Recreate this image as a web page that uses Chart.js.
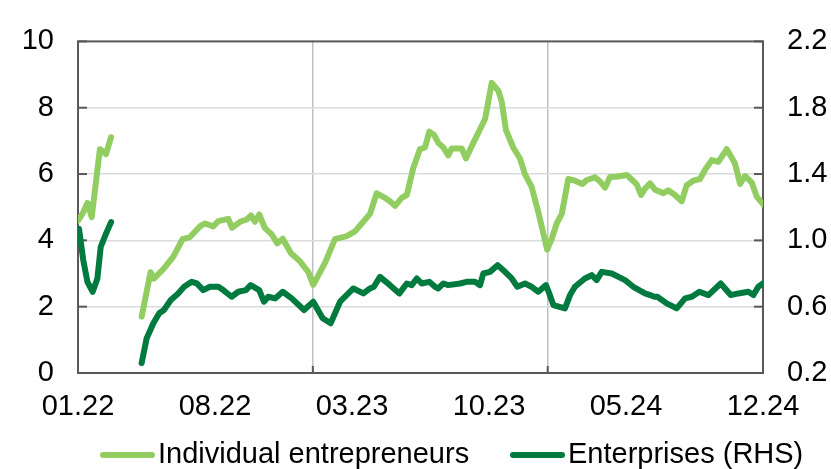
<!DOCTYPE html>
<html>
<head>
<meta charset="utf-8">
<script src="https://cdn.jsdelivr.net/npm/chart.js@4/dist/chart.umd.min.js"></script>
<style>
  html, body { margin: 0; padding: 0; background: #ffffff; }
  #wrap { width: 831px; height: 469px; position: relative; }
</style>
</head>
<body>
<div id="wrap"><canvas id="c"></canvas></div>
<script>
// ---- Data (x = months since Jan 2022) ----
const xTickMonths = [0, 7, 14, 21, 28, 35];
const xTickLabels = ['01.22', '08.22', '03.23', '10.23', '05.24', '12.24'];
const yearMarks = [12, 24];

const seriesNames = ['Individual entrepreneurs', 'Enterprises (RHS)'];

const ieMonths = [0.00, 0.23, 0.48, 0.70, 1.12, 1.43, 1.69, 2.40,
  3.25, 3.71, 3.88, 4.36, 4.87, 5.35, 5.72, 6.23, 6.49, 6.91, 7.17, 7.68, 7.87, 8.28, 8.62, 8.84, 9.04, 9.26, 9.55, 9.90,
  10.18, 10.46, 10.88, 11.34, 11.77, 12.02, 12.62, 13.13, 13.73, 14.15, 14.50, 14.92, 15.26, 15.69, 15.94, 16.20, 16.54,
  16.80, 17.13, 17.47, 17.73, 17.95, 18.19, 18.41, 18.67, 18.92, 19.09, 19.61, 19.82, 20.20, 20.80, 21.14, 21.48, 21.65,
  21.87, 22.24, 22.58, 22.84, 23.18, 23.52, 23.70, 23.97, 24.20, 24.46, 24.72, 25.05, 25.39, 25.77, 25.99, 26.42, 26.67,
  26.93, 27.18, 27.52, 28.04, 28.32, 28.55, 28.77, 28.97, 29.23, 29.48, 29.91, 30.16, 30.50, 30.85, 31.10, 31.44, 31.78,
  32.04, 32.38, 32.72, 33.15, 33.57, 33.83, 34.08, 34.42, 34.68, 35.00];
const ieValues = [4.60, 4.80, 5.13, 4.70, 6.75, 6.60, 7.11, null,
  1.70, 3.04, 2.85, 3.13, 3.51, 4.04, 4.10, 4.42, 4.51, 4.42, 4.58, 4.65, 4.38, 4.56, 4.63, 4.75, 4.56, 4.78, 4.37, 4.18,
  3.91, 4.05, 3.61, 3.37, 3.04, 2.66, 3.32, 4.04, 4.13, 4.27, 4.51, 4.80, 5.42, 5.28, 5.18, 5.04, 5.28,
  5.37, 6.18, 6.75, 6.80, 7.28, 7.18, 6.94, 6.80, 6.56, 6.77, 6.77, 6.47, 6.94, 7.66, 8.75, 8.51, 8.18,
  7.32, 6.80, 6.47, 5.99, 5.61, 4.85, 4.40, 3.72, 4.04, 4.51, 4.80, 5.85, 5.80, 5.70, 5.82, 5.90, 5.78,
  5.59, 5.91, 5.92, 5.97, 5.82, 5.69, 5.37, 5.56, 5.72, 5.53, 5.42, 5.51, 5.37, 5.18, 5.66, 5.80, 5.85,
  6.13, 6.42, 6.37, 6.75, 6.32, 5.70, 5.94, 5.75, 5.32, 5.09];

const entMonths = [0.05, 0.27, 0.48, 0.75, 0.99, 1.16, 1.43, 1.69, 2.40,
  3.25, 3.51, 3.85, 4.15, 4.39, 4.74, 5.12, 5.42, 5.81, 6.07, 6.40, 6.74, 7.17, 7.42, 7.85, 8.19, 8.58, 8.82, 9.26,
  9.50, 9.72, 10.07, 10.46, 10.92, 11.55, 12.02, 12.50, 12.91, 13.39, 14.07, 14.58, 14.92, 15.12, 15.43, 15.94, 16.42,
  16.80, 17.05, 17.31, 17.56, 17.95, 18.24, 18.41, 18.67, 18.92, 19.52, 19.86, 20.28, 20.54, 20.71, 21.05, 21.44,
  21.82, 22.16, 22.45, 22.84, 23.18, 23.52, 23.91, 24.08, 24.29, 24.88, 25.14, 25.39, 25.90, 26.25, 26.50, 26.76,
  27.27, 27.95, 28.37, 28.97, 29.23, 29.45, 29.60, 30.08, 30.59, 31.02, 31.36, 31.75, 32.21, 32.84, 33.35, 33.74,
  34.25, 34.51, 34.76, 35.00];
const entValues = [1.07, 0.88, 0.75, 0.69, 0.77, 0.96, 1.04, 1.11, null,
  0.26, 0.41, 0.50, 0.56, 0.58, 0.64, 0.68, 0.72, 0.75, 0.74, 0.70, 0.72, 0.72, 0.70, 0.66, 0.69, 0.70, 0.73, 0.70,
  0.63, 0.66, 0.65, 0.69, 0.65, 0.58, 0.63, 0.53, 0.50, 0.63, 0.71, 0.68, 0.71, 0.72, 0.78, 0.73, 0.68,
  0.74, 0.73, 0.77, 0.74, 0.75, 0.72, 0.71, 0.74, 0.73, 0.74, 0.75, 0.75, 0.73, 0.80, 0.81, 0.85,
  0.81, 0.77, 0.72, 0.74, 0.72, 0.69, 0.73, 0.68, 0.61, 0.59, 0.67, 0.72, 0.77, 0.79, 0.76, 0.81,
  0.80, 0.76, 0.72, 0.68, 0.67, 0.66, 0.66, 0.62, 0.59, 0.65, 0.66, 0.69, 0.67, 0.74, 0.67, 0.68,
  0.69, 0.67, 0.72, 0.74];

const leftTicks = [0, 2, 4, 6, 8, 10];
const rightTicks = [0.2, 0.6, 1.0, 1.4, 1.8, 2.2];

// ---- Styling ----
const LIGHT = '#92cd62';
const DARK = '#007a3e';
const FRAME = '#595959';
const FONT = '"Liberation Sans", Arial, sans-serif';
const FSIZE = 29;

function pts(xs, ys) { return xs.map((x, i) => ({ x: x, y: ys[i] })); }

const framePlugin = {
  id: 'frame',
  beforeDatasetsDraw(chart) {
    const { ctx, chartArea: a, scales } = chart;
    ctx.save();
    ctx.strokeStyle = FRAME;
    ctx.lineWidth = 2;
    ctx.strokeRect(a.left, a.top, a.right - a.left, a.bottom - a.top);
    leftTicks.forEach(v => {
      const y = scales.y.getPixelForValue(v);
      ctx.beginPath(); ctx.moveTo(a.left, y); ctx.lineTo(a.left + 9, y); ctx.stroke();
    });
    rightTicks.forEach(v => {
      const y = scales.y1.getPixelForValue(v);
      ctx.beginPath(); ctx.moveTo(a.right, y); ctx.lineTo(a.right - 9, y); ctx.stroke();
    });
    yearMarks.forEach(m => {
      const x = scales.x.getPixelForValue(m);
      ctx.beginPath(); ctx.moveTo(x, a.bottom); ctx.lineTo(x, a.bottom - 7); ctx.stroke();
    });
    ctx.restore();
  }
};

const legendPlugin = {
  id: 'customLegend',
  afterDraw(chart) {
    const ctx = chart.ctx;
    const y = 455;
    const items = [
      { color: LIGHT, x: 100, text: seriesNames[0] },
      { color: DARK, x: 510, text: seriesNames[1] }
    ];
    ctx.save();
    ctx.font = FSIZE + 'px ' + FONT;
    ctx.textBaseline = 'middle';
    ctx.fillStyle = '#000000';
    items.forEach(it => {
      ctx.strokeStyle = it.color;
      ctx.lineWidth = 6;
      ctx.lineCap = 'round';
      ctx.beginPath(); ctx.moveTo(it.x + 3, y); ctx.lineTo(it.x + 52, y); ctx.stroke();
      ctx.fillText(it.text, it.x + 58, y);
    });
    ctx.restore();
  }
};

new Chart(document.getElementById('c'), {
  type: 'line',
  data: {
    datasets: [
      {
        label: seriesNames[0],
        data: pts(ieMonths, ieValues),
        borderColor: LIGHT, backgroundColor: LIGHT,
        borderWidth: 6, pointRadius: 0, tension: 0,
        borderJoinStyle: 'round', borderCapStyle: 'round',
        spanGaps: false, yAxisID: 'y'
      },
      {
        label: seriesNames[1],
        data: pts(entMonths, entValues),
        borderColor: DARK, backgroundColor: DARK,
        borderWidth: 6, pointRadius: 0, tension: 0,
        borderJoinStyle: 'round', borderCapStyle: 'round',
        spanGaps: false, yAxisID: 'y1'
      }
    ]
  },
  options: {
    responsive: true,
    maintainAspectRatio: false,
    animation: false,
    layout: { padding: { top: 23, left: 0, right: 0, bottom: 0 } },
    plugins: { legend: { display: false }, tooltip: { enabled: false } },
    scales: {
      x: {
        type: 'linear', min: 0, max: 35,
        afterBuildTicks(scale) {
          const vals = xTickMonths.concat(yearMarks).sort((a, b) => a - b);
          scale.ticks = vals.map(v => ({ value: v }));
        },
        afterFit(scale) { scale.height = 96; },
        ticks: {
          autoSkip: false, maxRotation: 0, padding: 17,
          color: '#000000', font: { family: FONT, size: FSIZE },
          callback(v) { const i = xTickMonths.indexOf(v); return i >= 0 ? xTickLabels[i] : ''; }
        },
        grid: {
          drawTicks: false,
          color: ctx => (ctx.tick && yearMarks.includes(ctx.tick.value)) ? '#c0c0c0' : 'rgba(0,0,0,0)',
          lineWidth: 1.5
        },
        border: { display: false }
      },
      y: {
        type: 'linear', position: 'left', min: 0, max: 10,
        afterBuildTicks(scale) { scale.ticks = leftTicks.map(v => ({ value: v })); },
        afterFit(scale) { scale.width = 78; },
        ticks: { padding: 24, color: '#000000', font: { family: FONT, size: FSIZE } },
        grid: {
          drawTicks: false,
          color: ctx => (ctx.tick && (ctx.tick.value === 0 || ctx.tick.value === 10)) ? 'rgba(0,0,0,0)' : '#d9dcde',
          lineWidth: 1.5
        },
        border: { display: false }
      },
      y1: {
        type: 'linear', position: 'right', min: 0.2, max: 2.2,
        afterBuildTicks(scale) { scale.ticks = rightTicks.map(v => ({ value: v })); },
        afterFit(scale) { scale.width = 68; },
        ticks: {
          padding: 24, color: '#000000', font: { family: FONT, size: FSIZE },
          callback(v) { return Number(v).toFixed(1); }
        },
        grid: { display: false, drawTicks: false },
        border: { display: false }
      }
    }
  },
  plugins: [framePlugin, legendPlugin]
});
</script>
</body>
</html>
